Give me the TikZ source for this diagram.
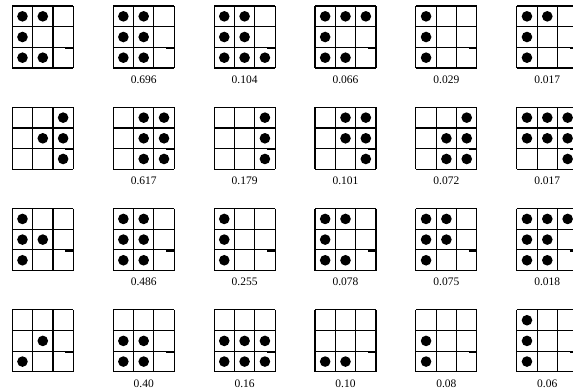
\documentclass[tikz,border=0pt]{standalone}
\usepackage{fontspec}
\setmainfont{Liberation Serif}
\tikzset{
  gridline/.style={line width=1.1pt},
  dotfill/.style={fill=black},
  tickmark/.style={line width=2pt},
  lbl/.style={font=\fontsize{11.5}{12}\selectfont, inner sep=0pt}
}
\def\cw{20.33}
\def\ch{20.67}
\newcommand\drawgrid[4]{%
  \begin{scope}[shift={({12.3+100.9*#1},{6+101.3*#2})}]
    \foreach \i in {0,...,3}{
      \draw[gridline] (\i*\cw,0) -- (\i*\cw,3*\ch);
      \draw[gridline] (0,\i*\ch) -- (3*\cw,\i*\ch);
    }
    \draw[tickmark] (3*\cw-8,2*\ch+0.6) -- (3*\cw,2*\ch+0.6);
    \foreach \c/\r in {#3}{
      \fill[dotfill] (\c*\cw-\cw/2,\r*\ch-\ch/2) circle (5.3pt);
    }
    \node[lbl] (L-#1-#2) at (1.5*\cw,3*\ch+11.5) {#4};
  \end{scope}
}
\begin{document}
\begin{tikzpicture}[x=1pt,y=-1pt]
\useasboundingbox (0,0) rectangle (573,391);
% row 1
\drawgrid{0}{0}{1/1,2/1,1/2,1/3,2/3}{}
\drawgrid{1}{0}{1/1,2/1,1/2,2/2,1/3,2/3}{0.696}
\drawgrid{2}{0}{1/1,2/1,1/2,2/2,1/3,2/3,3/3}{0.104}
\drawgrid{3}{0}{1/1,2/1,3/1,1/2,1/3,2/3}{0.066}
\drawgrid{4}{0}{1/1,1/2,1/3}{0.029}
\drawgrid{5}{0}{1/1,2/1,1/2,1/3}{0.017}
% row 2
\drawgrid{0}{1}{3/1,2/2,3/2,3/3}{}
\drawgrid{1}{1}{2/1,3/1,2/2,3/2,2/3,3/3}{0.617}
\drawgrid{2}{1}{3/1,3/2,3/3}{0.179}
\drawgrid{3}{1}{2/1,3/1,2/2,3/2,3/3}{0.101}
\drawgrid{4}{1}{3/1,2/2,3/2,2/3,3/3}{0.072}
\drawgrid{5}{1}{1/1,2/1,3/1,1/2,2/2,3/2,3/3}{0.017}
% row 3
\drawgrid{0}{2}{1/1,1/2,2/2,1/3}{}
\drawgrid{1}{2}{1/1,2/1,1/2,2/2,1/3,2/3}{0.486}
\drawgrid{2}{2}{1/1,1/2,1/3}{0.255}
\drawgrid{3}{2}{1/1,2/1,1/2,1/3,2/3}{0.078}
\drawgrid{4}{2}{1/1,2/1,1/2,2/2,1/3}{0.075}
\drawgrid{5}{2}{1/1,2/1,3/1,1/2,2/2,1/3,2/3}{0.018}
% row 4
\drawgrid{0}{3}{2/2,1/3}{}
\drawgrid{1}{3}{1/2,2/2,1/3,2/3}{0.40}
\drawgrid{2}{3}{1/2,2/2,3/2,1/3,2/3,3/3}{0.16}
\drawgrid{3}{3}{1/3,2/3}{0.10}
\drawgrid{4}{3}{1/2,1/3}{0.08}
\drawgrid{5}{3}{1/1,1/2,1/3}{0.06}
\end{tikzpicture}
\end{document}
